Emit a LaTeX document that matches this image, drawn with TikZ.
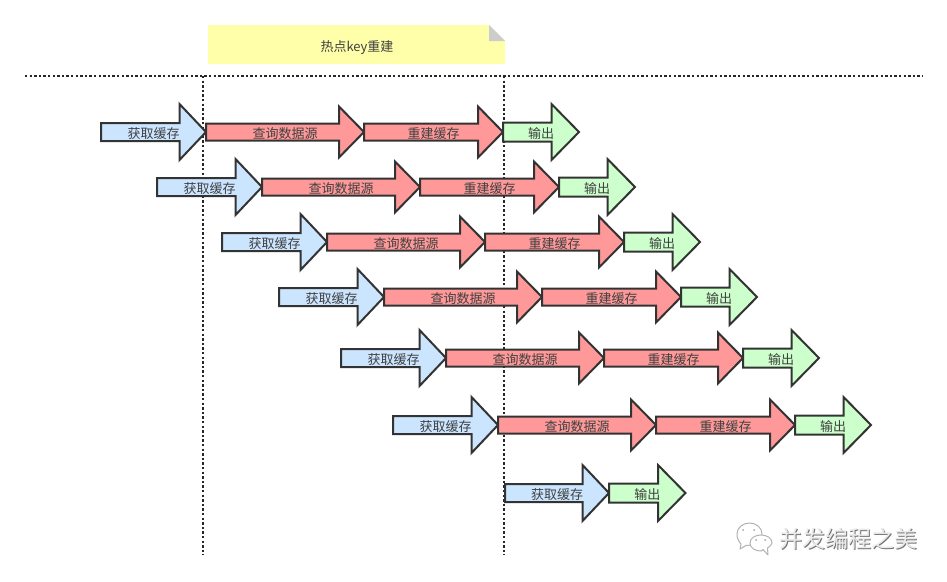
\documentclass[tikz,border=0pt]{standalone}
\usepackage{fontspec}
\setmainfont{Noto Sans CJK SC}
\definecolor{ink}{HTML}{333333}
\definecolor{textink}{HTML}{404040}
\definecolor{bluefill}{HTML}{CCE5FF}
\definecolor{redfill}{HTML}{FF9999}
\definecolor{greenfill}{HTML}{CCFFCC}
\definecolor{notefill}{HTML}{FFFFAA}
\definecolor{foldfill}{HTML}{CCCCCC}
\tikzset{
  arrowshape/.style={draw=ink,line width=2pt,line join=miter,miter limit=10},
  arrowlabel/.style={inner sep=0pt,text=textink,font=\fontsize{13}{13}\selectfont},
  guide/.style={draw=black!85,line width=2pt,dash pattern=on 2.4pt off 2.2pt},
  wm/.style={inner sep=0pt,anchor=west,font=\fontsize{23}{23}\selectfont},
  bubble/.style={draw=black!30,line width=1pt,fill=white,line join=round}
}
% name, left x, right x, head length, half shaft, half head, centre y, fill, text
\newcommand{\flowarrow}[9]{%
  \draw[arrowshape,fill=#8]
    (#2,#7-#5) -- (#3-#4,#7-#5) -- (#3-#4,#7-#6) -- (#3,#7)
    -- (#3-#4,#7+#6) -- (#3-#4,#7+#5) -- (#2,#7+#5) -- cycle;
  \node[arrowlabel] (#1) at ({(#2+#3)/2},#7+1.5) {#9};
}
\newcommand{\flowrow}[3]{% prefix, left x, centre y
  \flowarrow{#1a}{#2}{#2+105}{26.5}{9}{28}{#3}{bluefill}{获取缓存}
  \flowarrow{#1b}{#2+105}{#2+263}{25}{8.5}{25.5}{#3}{redfill}{查询数据源}
  \flowarrow{#1c}{#2+263}{#2+402}{25}{8.5}{25.5}{#3}{redfill}{重建缓存}
  \flowarrow{#1d}{#2+402}{#2+478}{27.5}{9.5}{28}{#3}{greenfill}{输出}
}
\begin{document}
\begin{tikzpicture}[x=1pt,y=-1pt]
\useasboundingbox[fill=white] (0,0) rectangle (947,581);
% note
\fill[notefill] (208,25) -- (489,25) -- (505,41) -- (505,64) -- (208,64) -- cycle;
\fill[foldfill] (489,25) -- (505,41) -- (489,41) -- cycle;
\node[inner sep=0pt,text=textink,font=\fontsize{13}{13}\selectfont] (note) at (357,47.5) {热点key重建};
% guides
\coordinate (hl) at (25,76);
\coordinate (hr) at (923,76);
\coordinate (va) at (203,76);
\coordinate (vab) at (203,555);
\coordinate (vb) at (504,76);
\coordinate (vbb) at (504,555);
\draw[guide] (hl) -- (hr);
\draw[guide] (va) -- (vab);
\draw[guide] (vb) -- (vbb);
% rows
\flowrow{r}{101}{132}
\flowrow{s}{157}{187}
\flowrow{t}{222}{242}
\flowrow{u}{279}{297}
\flowrow{v}{341}{358}
\flowrow{w}{393}{425}
\flowarrow{xa}{505}{609}{26.5}{9}{28}{493}{bluefill}{获取缓存}
\flowarrow{xd}{609}{685.5}{27.5}{9.5}{28}{493}{greenfill}{输出}
% watermark
\draw[bubble] (741,544) -- (740,549) -- (746,545.5) to[out=0,in=270] (762,534)
  to[out=90,in=0] (749.5,523) to[out=180,in=90] (737,534) to[out=270,in=130] cycle;
\draw[bubble] (763,549.5) -- (768,555) -- (767.5,548) to[out=50,in=270] (772,543)
  to[out=90,in=0] (761,535) to[out=180,in=90] (750,543) to[out=270,in=180] (761,551) to[out=0,in=200] cycle;
\foreach \p/\q in {743/530,754/530,756/540,765/540}{\fill[black!35] (\p,\q) circle[radius=1];}
\node[wm,text=black!55] (markshadow) at (780,540) {并发编程之美};
\node[wm,text=black!8] (mark) at (779,539) {并发编程之美};
\end{tikzpicture}
\end{document}
